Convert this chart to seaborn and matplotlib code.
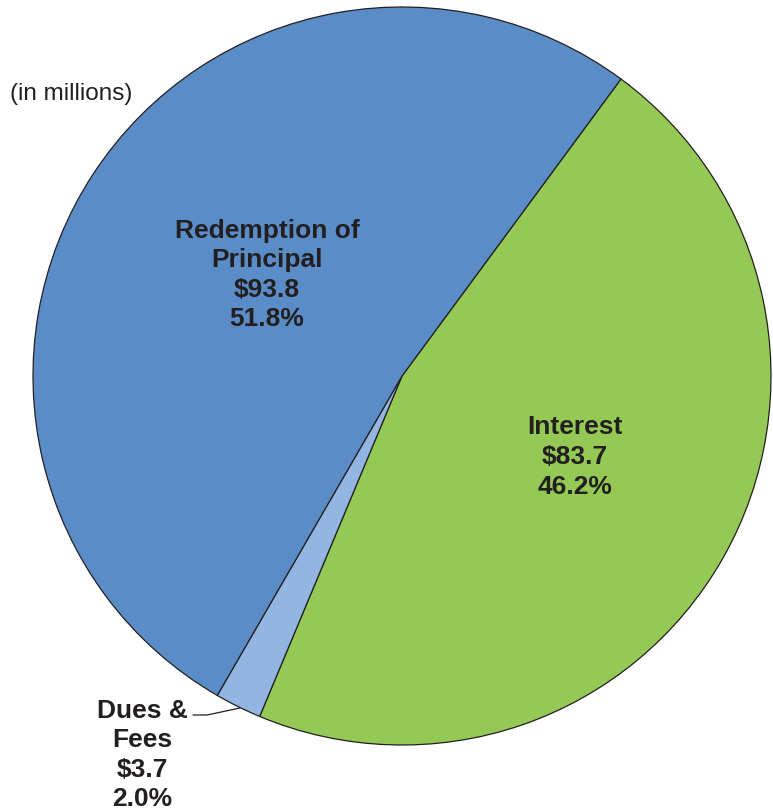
import numpy as np
import seaborn as sns
import matplotlib.pyplot as plt

# slices in clockwise order starting from the upper-right boundary
categories = ['Interest', 'Dues &\nFees', 'Redemption of\nPrincipal']
amounts = [83.7, 3.7, 93.8]
percents = [46.2, 2.0, 51.8]
colors = ['#93C954', '#92B5E2', '#5A8DC8']

sns.set_theme(style='white')
plt.rcParams['font.family'] = ['Liberation Sans', 'DejaVu Sans']

W, H = 773, 811
CX, CY, R = 402, 376, 369

def px(x, y):
    # pixel position -> data coords (pie radius = 1)
    return (x - CX) / R, (CY - y) / R

fig = plt.figure(figsize=(W / 100, H / 100), dpi=100)
ax = fig.add_axes([0, 0, 1, 1])

ax.pie(amounts, colors=colors, startangle=53.6, counterclock=False,
       wedgeprops=dict(edgecolor='#231F20', linewidth=0.9))

ax.set_xlim(px(0, 0)[0], px(W, 0)[0])
ax.set_ylim(px(0, H)[1], px(0, 0)[1])
ax.set_aspect('auto')
ax.axis('off')

txt = dict(ha='center', va='center', fontsize=19, fontweight='bold',
           color='#231F20', linespacing=1.29)

# label positions (pixels) for each slice
label_pos = [(575, 457), (142, 755), (267, 275)]
for cat, amt, pct, (lx, ly) in zip(categories, amounts, percents, label_pos):
    x, y = px(lx, ly)
    ax.text(x, y, f'{cat}\n${amt:.1f}\n{pct:.1f}%', **txt)

# leader line for the small slice
lx, ly = zip(px(193, 715), px(207, 715), px(240, 708))
ax.plot(lx, ly, color='#231F20', lw=0.9)

x, y = px(10, 94)
ax.text(x, y, '(in millions)', ha='left', va='center', fontsize=17.5,
        color='#231F20')

fig.savefig('out.png', dpi=100)
